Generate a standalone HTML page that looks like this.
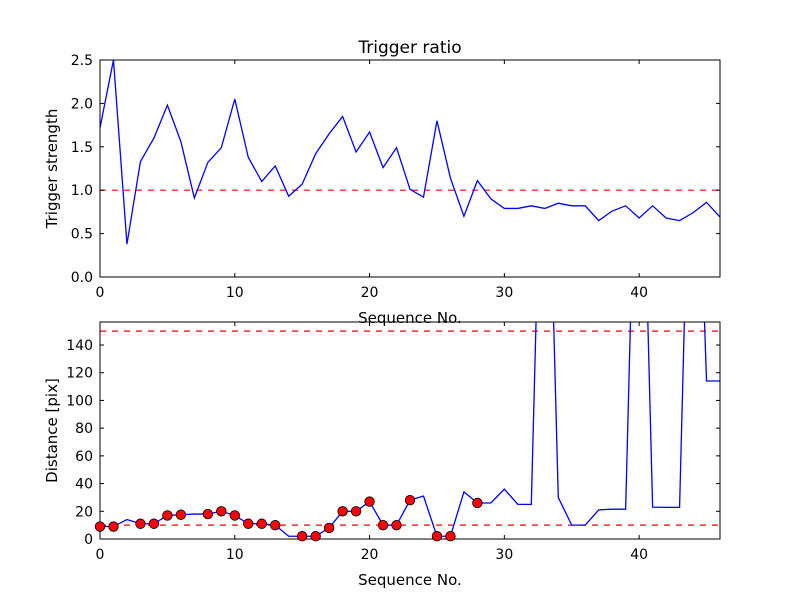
<!DOCTYPE html>
<html><head><meta charset="utf-8"><style>
body{margin:0;background:#fff}
svg text{font-family:"DejaVu Sans","Liberation Sans",sans-serif;fill:#000}
</style></head><body>
<svg id="c" width="800" height="600">
<rect width="800" height="600" fill="#fff"/>
</svg>
<script>
const seq = Array.from({length:47},(_,i)=>i);
const strength = [1.72,2.5,0.38,1.33,1.6,1.98,1.56,0.91,1.32,1.49,2.05,1.38,1.1,1.28,0.93,1.07,1.42,1.65,1.85,1.44,1.67,1.26,1.49,1.01,0.92,1.8,1.14,0.7,1.11,0.9,0.79,0.79,0.82,0.79,0.85,0.82,0.82,0.65,0.76,0.82,0.68,0.82,0.68,0.65,0.74,0.86,0.69];
const distance = [9,9,14,11,11,17,17.5,18,18,20,17,11,11,10,2,2,2,8,20,20,27,10,10,28,31,2,2,34,26,26,36,25,25,400,30,10,10,21,21.5,21.5,400,23,22.8,22.8,400,114,114];
const marked = [0,1,3,4,5,6,8,9,10,11,12,13,15,16,17,18,19,20,21,22,23,25,26,28];
const topTicksY = [0,0.5,1.0,1.5,2.0,2.5];
const botTicksY = [0,20,40,60,80,100,120,140];
const ticksX = [0,10,20,30,40];
const topThresh = [1.0];
const botThresh = [10,150];

const NS="http://www.w3.org/2000/svg";
const svg=document.getElementById('c');
function el(t,a,p){const e=document.createElementNS(NS,t);for(const k in a)e.setAttribute(k,a[k]);(p||svg).appendChild(e);return e;}
const X0=100,X1=720,xmax=46;
const sx=v=>X0+(X1-X0)*v/xmax;

function panel(name,yTop,yBot,ymax,ticksY,fmt,data,thresh,ylabel,title){
  const sy=v=>yBot-(yBot-yTop)*v/ymax;
  const g=el('g',{});
  
  
  const cid='clip-'+name;
  const cp=el('clipPath',{id:cid},g);el('rect',{x:X0,y:yTop,width:X1-X0,height:yBot-yTop},cp);
  thresh.forEach(t=>{const l=el('line',{x1:X0,x2:X1,y1:sy(t),y2:sy(t),stroke:'#f00','stroke-width':1.2,'stroke-dasharray':'6,6','clip-path':`url(#${cid})`},g);
    
    });
  const pts=data.map((v,i)=>sx(seq[i]).toFixed(2)+','+sy(v).toFixed(2)).join(' ');
  const pl=el('polyline',{points:pts,fill:'none',stroke:'#00f','stroke-width':1.3,'clip-path':`url(#${cid})`},g);
  
  
  el('rect',{x:X0,y:yTop,width:X1-X0,height:yBot-yTop,fill:'none',stroke:'#000','stroke-width':1},g);
  ticksY.forEach(t=>{const y=sy(t);
    el('line',{x1:X0,x2:X0+4,y1:y,y2:y,stroke:'#000'},g);el('line',{x1:X1,x2:X1-4,y1:y,y2:y,stroke:'#000'},g);
    const tx=el('text',{x:X0-7,y:y+5,'text-anchor':'end','font-size':14},g);tx.textContent=fmt(t);
    
    });
  ticksX.forEach(t=>{const x=sx(t);
    el('line',{x1:x,x2:x,y1:yBot,y2:yBot-4,stroke:'#000'},g);el('line',{x1:x,x2:x,y1:yTop,y2:yTop+4,stroke:'#000'},g);
    const tx=el('text',{x:x,y:yBot+20,'text-anchor':'middle','font-size':14},g);tx.textContent=t;
    
    });
  const xl=el('text',{x:410,y:yBot+46,'text-anchor':'middle','font-size':15},g);xl.textContent='Sequence No.';
  
  
  const cy=(yTop+yBot)/2;
  const yl=el('text',{x:57,y:cy,'text-anchor':'middle','font-size':15,transform:`rotate(-90 57 ${cy})`},g);yl.textContent=ylabel;
  
  
  if(title){const t=el('text',{x:410,y:53,'text-anchor':'middle','font-size':17},g);t.textContent=title;
    
    }
  return sy;
}
panel('top-panel',60,277,2.5,topTicksY,v=>v.toFixed(1),strength,topThresh,'Trigger strength','Trigger ratio');
const sy2=panel('bottom-panel',322,539,156.6,botTicksY,v=>String(v),distance,botThresh,'Distance [pix]',null);
marked.forEach(i=>{const c=el('circle',{cx:sx(seq[i]),cy:sy2(distance[i]),r:4.8,fill:'#f00',stroke:'#000','stroke-width':0.8});
  
  });
</script>
</body></html>
